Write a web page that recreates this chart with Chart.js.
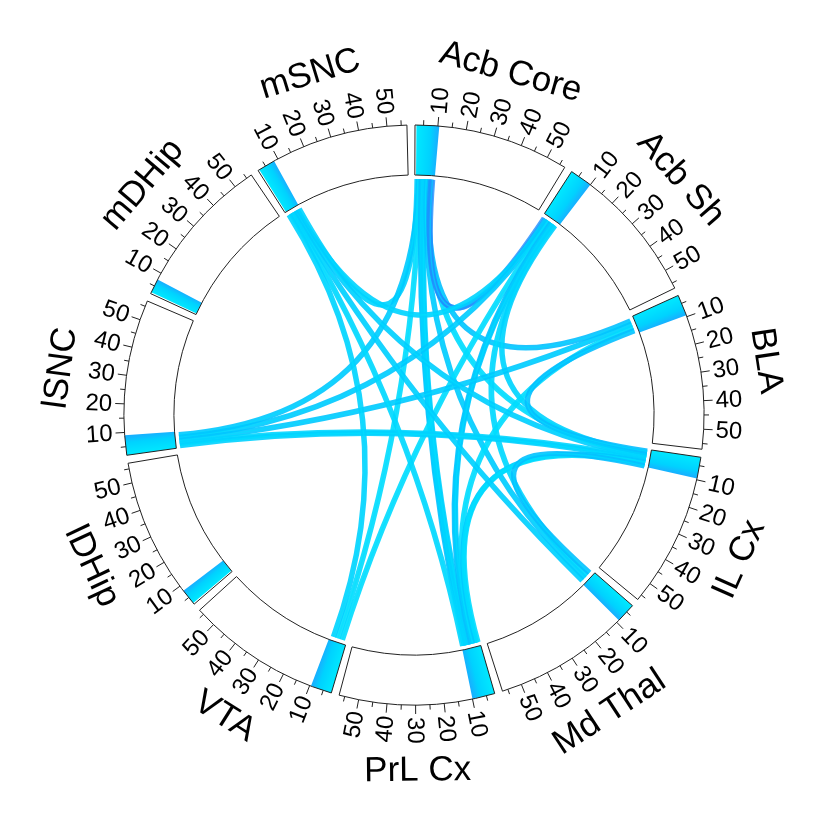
<!DOCTYPE html>
<html>
<head>
<meta charset="utf-8">
<script src="https://cdn.jsdelivr.net/npm/chart.js@4.4.1/dist/chart.umd.min.js"></script>
<style>
  html, body { margin: 0; padding: 0; background: #fff; }
  #wrap { width: 830px; height: 830px; }
</style>
</head>
<body>
<div id="wrap"><canvas id="chord"></canvas></div>
<script>
// sectors, clockwise from 12 o'clock
const sectorNames = ['Acb Core', 'Acb Sh', 'BLA', 'IL Cx', 'Md Thal', 'PrL Cx', 'VTA', 'lDHip', 'lSNC', 'mDHip', 'mSNC'];
const axisMin = 2, axisMax = 57;
const minorTicks = [5, 15, 25, 35, 45, 55];
const majorTicks = [10, 20, 30, 40, 50];

// highlighted range on each sector track
const bandStart = [2.5, 2, 2, 2, 2, 2, 2, 2.5, 2, 2.5, 2.5];
const bandEnd   = [10.5, 10, 9.5, 9.5, 9, 10, 9.5, 8, 9, 7.5, 8.5];

// links: sector index + position on that sector's axis
const linkFrom    = [0, 0, 0, 0, 0, 0, 0, 0, 0, 0, 0, 0, 1, 1, 1, 1, 1, 1, 1, 2, 2, 2, 3, 3, 3, 3, 3, 3, 4, 5, 6];
const linkFromPos = [3.0, 3.6, 4.2, 4.8, 5.4, 6.0, 6.6, 7.2, 7.8, 8.4, 9.0, 9.6, 4.4, 5.1, 5.8, 6.5, 7.2, 7.9, 8.6, 5.0, 6.5, 8.0, 5.2, 6.0, 6.8, 7.6, 8.4, 9.2, 8.0, 9.5, 8.0];
const linkTo      = [10, 8, 6, 5, 5, 5, 5, 4, 3, 2, 1, 1, 10, 8, 6, 5, 5, 4, 3, 8, 5, 3, 10, 8, 8, 5, 5, 4, 10, 10, 10];
const linkToPos   = [8.0, 7.6, 6.0, 8.8, 8.05, 7.3, 6.55, 6.5, 4.4, 3.5, 3.7, 3.0, 7.0, 6.4, 4.0, 5.8, 5.05, 5.0, 3.6, 5.2, 4.3, 2.8, 6.0, 4.0, 3.0, 3.55, 2.8, 3.5, 5.0, 4.0, 3.0];

const palette = ['#00d2ff', '#00c8ff', '#00dcff', '#06bfff', '#00ccff', '#00d6ff'];
const nearColor = '#1f8fff';

const R_OUT = 290, R_IN = 240, R_LINK = 236;
const SECTOR_DEG = 360 / sectorNames.length;
const GAP_DEG = 1.6, OFFSET_DEG = 0.2;

function angleOf(sector, value) {
  return sector * SECTOR_DEG + OFFSET_DEG + (value - axisMin) / (axisMax - axisMin) * (SECTOR_DEG - GAP_DEG);
}

const chordPlugin = {
  id: 'chord',
  afterDatasetsDraw(chart) {
    const ctx = chart.ctx;
    const sx = chart.scales.x, sy = chart.scales.y;
    const cx = sx.getPixelForValue(0), cy = sy.getPixelForValue(0);
    const rad = r => sx.getPixelForValue(r) - cx;
    const pt = (r, deg) => {
      const t = deg * Math.PI / 180;
      return [sx.getPixelForValue(r * Math.sin(t)), sy.getPixelForValue(r * Math.cos(t))];
    };
    const cAng = deg => (deg - 90) * Math.PI / 180;

    ctx.save();

    // links (a wide stroke plus a thin lighter core)
    ctx.lineCap = 'butt';
    for (let i = 0; i < linkFrom.length; i++) {
      const a = angleOf(linkFrom[i], linkFromPos[i]);
      const b = angleOf(linkTo[i], linkToPos[i]);
      const p0 = pt(R_LINK, a), p1 = pt(R_LINK, b);
      const near = Math.abs(linkFrom[i] - linkTo[i]) === 1 && linkFrom[i] === 0;
      ctx.beginPath();
      ctx.moveTo(p0[0], p0[1]);
      ctx.quadraticCurveTo(cx, cy, p1[0], p1[1]);
      ctx.strokeStyle = near ? nearColor : palette[i % palette.length];
      ctx.lineWidth = 5.5;
      ctx.globalAlpha = near ? 0.8 : 0.9;
      ctx.stroke();
      ctx.strokeStyle = '#00e4ff';
      ctx.lineWidth = 1.5;
      ctx.globalAlpha = 0.5;
      ctx.stroke();
    }
    ctx.globalAlpha = 1;

    // sector tracks
    sectorNames.forEach((name, k) => {
      const a0 = angleOf(k, axisMin), a1 = angleOf(k, axisMax);
      const ro = rad(R_OUT), ri = rad(R_IN);
      ctx.beginPath();
      ctx.arc(cx, cy, ro, cAng(a0), cAng(a1));
      ctx.arc(cx, cy, ri, cAng(a1), cAng(a0), true);
      ctx.closePath();
      ctx.fillStyle = '#fff';
      ctx.fill();

      // highlighted band
      const b0 = angleOf(k, bandStart[k]), b1 = angleOf(k, bandEnd[k]);
      const g0 = pt((R_OUT + R_IN) / 2, b0), g1 = pt((R_OUT + R_IN) / 2, b1);
      const grad = ctx.createLinearGradient(g0[0], g0[1], g1[0], g1[1]);
      grad.addColorStop(0, '#00e8ff');
      grad.addColorStop(0.65, '#00d2ff');
      grad.addColorStop(1, '#18b0ff');
      ctx.beginPath();
      ctx.arc(cx, cy, ro, cAng(b0), cAng(b1));
      ctx.arc(cx, cy, ri, cAng(b1), cAng(b0), true);
      ctx.closePath();
      ctx.fillStyle = grad;
      ctx.fill();

      ctx.beginPath();
      ctx.arc(cx, cy, ro, cAng(a0), cAng(a1));
      ctx.arc(cx, cy, ri, cAng(a1), cAng(a0), true);
      ctx.closePath();
      ctx.strokeStyle = '#222';
      ctx.lineWidth = 1;
      ctx.stroke();

      // ticks
      const tick = (v, len) => {
        const d = angleOf(k, v);
        const p = pt(R_OUT, d), q = pt(R_OUT + len, d);
        ctx.beginPath();
        ctx.moveTo(p[0], p[1]);
        ctx.lineTo(q[0], q[1]);
        ctx.stroke();
      };
      minorTicks.forEach(v => tick(v, 5));
      majorTicks.forEach(v => tick(v, 9));

      // tick labels, radial
      ctx.fillStyle = '#000';
      ctx.font = '24px "Liberation Sans", Arial, sans-serif';
      ctx.textBaseline = 'middle';
      majorTicks.forEach(v => {
        const d = angleOf(k, v);
        const p = pt(R_OUT + 12, d);
        ctx.save();
        ctx.translate(p[0], p[1]);
        if (d % 360 < 180) {
          ctx.rotate(cAng(d));
          ctx.textAlign = 'left';
        } else {
          ctx.rotate(cAng(d) + Math.PI);
          ctx.textAlign = 'right';
        }
        ctx.fillText(String(v), 0, 1);
        ctx.restore();
      });

      // sector name, tangential
      const mid = (a0 + a1) / 2;
      const p = pt(356, mid);
      ctx.save();
      ctx.translate(p[0], p[1]);
      const m = mid * Math.PI / 180;
      ctx.rotate(Math.cos(m) > 0 ? m : m + Math.PI);
      ctx.font = '35px "Liberation Sans", Arial, sans-serif';
      ctx.textAlign = 'center';
      ctx.textBaseline = 'middle';
      ctx.fillText(name, 0, 0);
      ctx.restore();
    });

    ctx.restore();
  }
};

new Chart(document.getElementById('chord'), {
  type: 'scatter',
  data: { datasets: [{ data: [] }] },
  options: {
    responsive: true,
    maintainAspectRatio: false,
    animation: false,
    layout: { padding: 0 },
    scales: {
      x: { type: 'linear', min: -414, max: 416, display: false },
      y: { type: 'linear', min: -415, max: 415, display: false }
    },
    plugins: { legend: { display: false }, tooltip: { enabled: false } }
  },
  plugins: [chordPlugin]
});
</script>
</body>
</html>
